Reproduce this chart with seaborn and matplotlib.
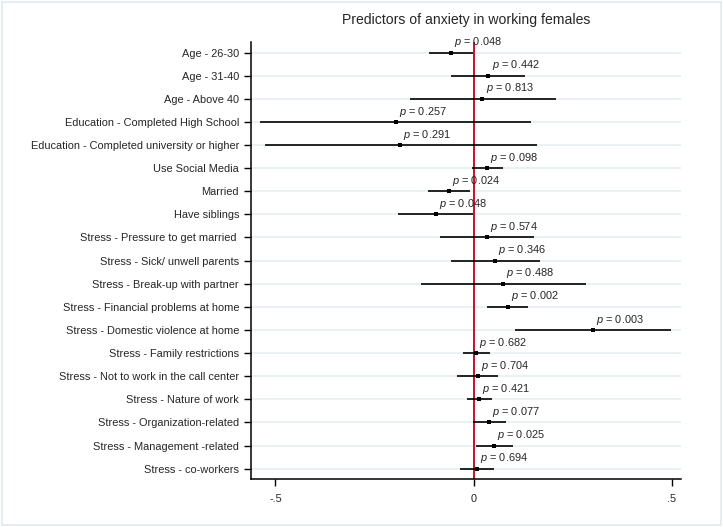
import numpy as np
import pandas as pd
import seaborn as sns
import matplotlib.pyplot as plt
from matplotlib.patches import Rectangle

# predictors, estimates and 95% CI
labels = ['Age - 26-30', 'Age - 31-40', 'Age - Above 40',
          'Education - Completed High School',
          'Education - Completed university or higher',
          'Use Social Media', 'Married', 'Have siblings',
          'Stress - Pressure to get married ', 'Stress - Sick/ unwell parents',
          'Stress - Break-up with partner', 'Stress - Financial problems at home',
          'Stress - Domestic violence at home', 'Stress - Family restrictions',
          'Stress - Not to work in the call center', 'Stress - Nature of work',
          'Stress - Organization-related', 'Stress - Management -related',
          'Stress - co-workers']
coef = [-0.057, 0.037, 0.022, -0.197, -0.186, 0.034, -0.063, -0.096, 0.034, 0.054,
        0.073, 0.086, 0.300, 0.005, 0.010, 0.013, 0.039, 0.052, 0.008]
lo = [-0.114, -0.057, -0.161, -0.540, -0.527, -0.005, -0.116, -0.190, -0.085, -0.058,
      -0.134, 0.034, 0.103, -0.026, -0.041, -0.018, -0.003, 0.007, -0.035]
hi = [-0.001, 0.130, 0.207, 0.144, 0.159, 0.075, -0.009, -0.001, 0.152, 0.166,
      0.284, 0.138, 0.497, 0.041, 0.062, 0.045, 0.082, 0.098, 0.051]
pvals = ['0.048', '0.442', '0.813', '0.257', '0.291', '0.098', '0.024', '0.048', '0.574',
         '0.346', '0.488', '0.002', '0.003', '0.682', '0.704', '0.421', '0.077', '0.025',
         '0.694']

df = pd.DataFrame({'label': labels, 'coef': coef, 'lo': lo, 'hi': hi, 'p': pvals})
df['row'] = np.arange(len(df))

sns.set_style('white')
plt.rcParams['font.family'] = ['Liberation Sans', 'DejaVu Sans']
plt.rcParams['mathtext.fontset'] = 'custom'
plt.rcParams['mathtext.rm'] = 'Liberation Sans'
plt.rcParams['mathtext.it'] = 'Liberation Sans:italic'

fs = 7.9
fig = plt.figure(figsize=(7.23, 5.27), dpi=100)
ax = fig.add_axes([0.347, 0.091, 0.595, 0.829])

# light grid at each row
for r in df['row']:
    ax.axhline(r, color='#e6eff1', lw=1.2, zorder=0)

ax.axvline(0, color='#c8102e', lw=1.4, zorder=1)
ax.hlines(df['row'], df['lo'], df['hi'], color='black', lw=1.2, zorder=2)
sns.scatterplot(data=df, x='coef', y='row', ax=ax, color='black', marker='s',
                s=11, edgecolor='black', linewidth=0, zorder=3)

for _, d in df.iterrows():
    ax.text(d['coef'] + 0.008, d['row'] - 0.45, r'$\it{p}$ = ' + d['p'],
            fontsize=fs, ha='left', va='center', zorder=4)

ax.set_xlim(-0.562, 0.523)
ax.set_ylim(len(df) - 0.55, -0.45)
ax.set_xticks([-0.5, 0, 0.5])
ax.set_xticklabels(['-.5', '0', '.5'])
ax.set_yticks(df['row'])
ax.set_yticklabels(df['label'])
ax.tick_params(axis='both', labelsize=fs, length=5, width=1, color='black',
               direction='out', left=True, bottom=True)
ax.tick_params(axis='x', pad=6)
ax.set_xlabel('')
ax.set_ylabel('')
for s in ['top', 'right']:
    ax.spines[s].set_visible(False)
for s in ['left', 'bottom']:
    ax.spines[s].set_color('black')
    ax.spines[s].set_linewidth(1.1)

ax.set_title('Predictors of anxiety in working females', fontsize=10.1, pad=13)

fig.patches.append(Rectangle((0.003, 0.004), 0.994, 0.992, transform=fig.transFigure,
                             fill=False, edgecolor='#dfeaec', lw=1.2))

fig.savefig('out.png', dpi=100)
